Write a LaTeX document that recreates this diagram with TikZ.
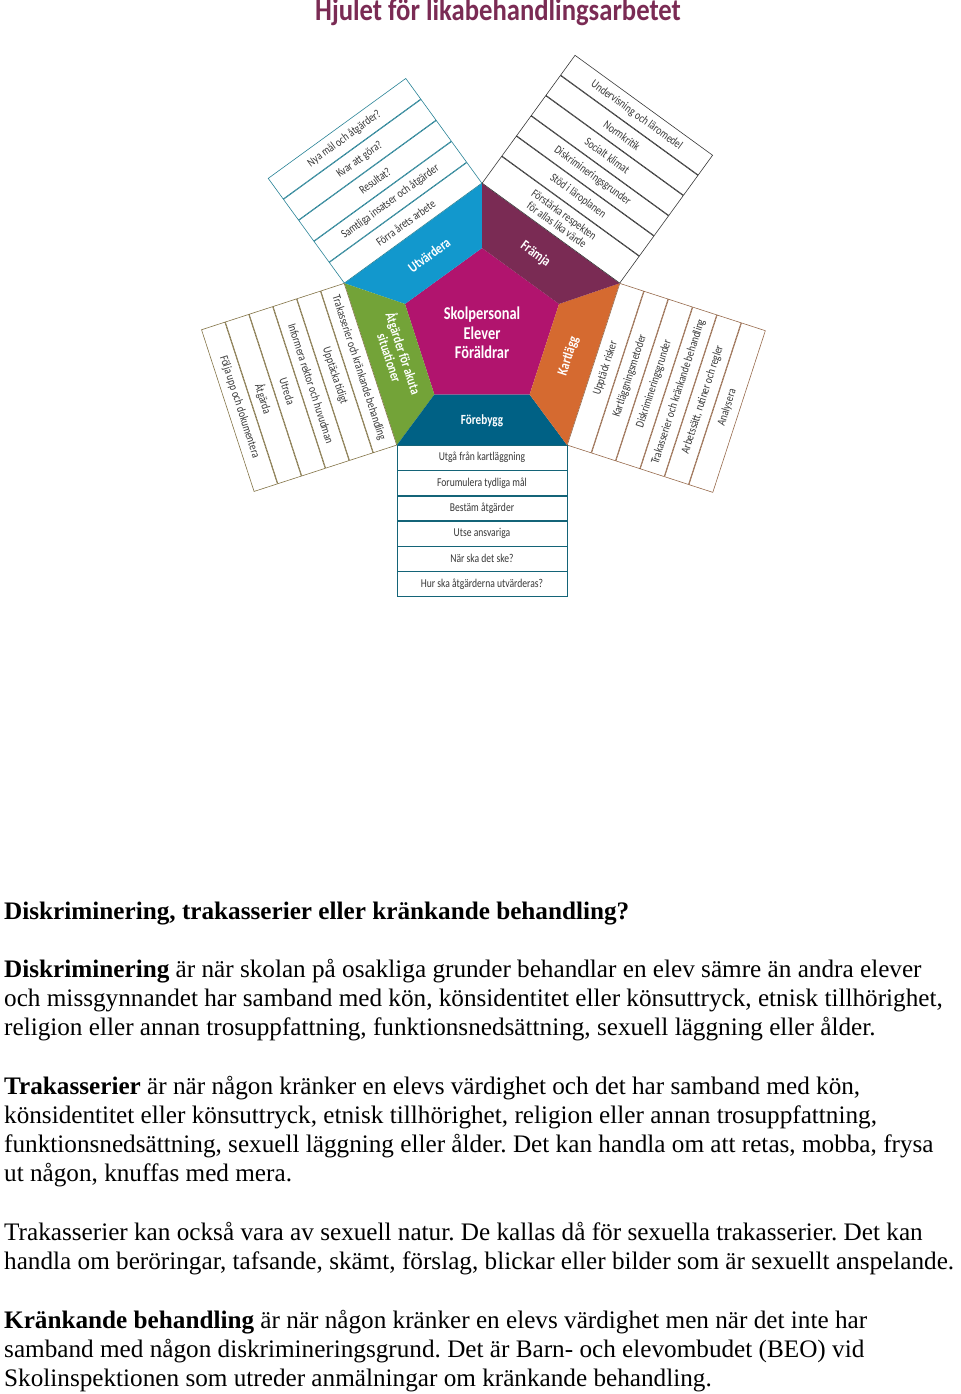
\documentclass[tikz,border=0pt]{standalone}
\usepackage{fontspec}
\setmainfont{Liberation Serif}
\newfontfamily\wheelfont[FakeStretch=0.8]{Carlito}
\newfontfamily\titlefont[FakeStretch=0.86]{Carlito}
\usetikzlibrary{calc,positioning}
\frenchspacing

\definecolor{hubColor}{RGB}{177,20,110}
\definecolor{evalColor}{RGB}{18,152,205}
\definecolor{promoColor}{RGB}{122,43,84}
\definecolor{surveyColor}{RGB}{213,106,48}
\definecolor{preventColor}{RGB}{0,97,133}
\definecolor{actColor}{RGB}{115,163,56}
\definecolor{evalLine}{RGB}{40,130,150}
\definecolor{promoLine}{RGB}{55,55,55}
\definecolor{surveyLine}{RGB}{150,105,75}
\definecolor{actLine}{RGB}{130,115,70}
\definecolor{preventLine}{RGB}{20,100,120}
\definecolor{rowText}{RGB}{55,55,55}

\begin{document}
\begin{tikzpicture}[x=1bp, y=1bp]
	\tikzstyle{row} = [draw, line width=0.6bp, rectangle, minimum width=170bp, inner sep=0pt, text=rowText, align=center, font=\wheelfont\fontsize{12bp}{12.5bp}\selectfont]
	\tikzstyle{segLabel} = [text=white, align=center, font=\wheelfont\bfseries\fontsize{14.5bp}{15bp}\selectfont]
	\tikzstyle{hubLabel} = [text=white, align=center, font=\wheelfont\bfseries\fontsize{18bp}{19.7bp}\selectfont]
	\tikzstyle{bodyLine} = [anchor=base west, inner sep=0pt, font=\fontsize{25.2bp}{29bp}\selectfont]
	\tikzstyle{evalRow} = [row, draw=evalLine, rotate=36, minimum height=25.4bp]
	\tikzstyle{promoRow} = [row, draw=promoLine, rotate=-36, minimum height=24.4bp]
	\tikzstyle{surveyRow} = [row, draw=surveyLine, rotate=72, minimum height=25bp]
	\tikzstyle{actRow} = [row, draw=actLine, rotate=-72, minimum height=24.5bp]
	\tikzstyle{preventRow} = [row, draw=preventLine, minimum height=24.7bp]

	\useasboundingbox (0,0) rectangle (960,-1394);

	% the wheel
	\coordinate (C) at (482,-328);
	\coordinate (Ci) at (482,-329);
	\foreach \i/\a in {0/90,1/162,2/234,3/306,4/18}{
		\coordinate (o\i) at ($(C)+(\a:144.6)$);
		\coordinate (n\i) at ($(Ci)+(\a:81)$);
	}
	\fill[hubColor] (n0) -- (n1) -- (n2) -- (n3) -- (n4) -- cycle;
	\fill[evalColor] (o0) -- (o1) -- (n1) -- (n0) -- cycle;
	\fill[actColor] (o1) -- (o2) -- (n2) -- (n1) -- cycle;
	\fill[preventColor] (o2) -- (o3) -- (n3) -- (n2) -- cycle;
	\fill[surveyColor] (o3) -- (o4) -- (n4) -- (n3) -- cycle;
	\fill[promoColor] (o4) -- (o0) -- (n0) -- (n4) -- cycle;

	\node[hubLabel] (hub) at (482,-333) {Skolpersonal\\Elever\\Föräldrar};
	\node[segLabel, rotate=36] (eval) at ($(C)+(126:90)$) {Utvärdera};
	\node[segLabel, rotate=-36] (promo) at ($(C)+(54:91)$) {Främja};
	\node[segLabel, rotate=72] (survey) at ($(C)+(-18:91)$) {Kartlägg};
	\node[segLabel, rotate=-72, font=\wheelfont\bfseries\fontsize{14bp}{14.5bp}\selectfont] (act) at ($(C)+(198:89)$) {Åtgärder för akuta\\situationer};
	\node[segLabel, font=\wheelfont\bfseries\fontsize{14bp}{14bp}\selectfont] (prevent) at ($(C)+(270:93)$) {Förebygg};

	% lists on the outer edges
	\node[evalRow, anchor=south] (eval1) at ($(C)+(126:116.98)$) {Förra årets arbete};
	\node[evalRow, above=0pt of eval1] (eval2) {Samtliga insatser och åtgärder};
	\node[evalRow, above=0pt of eval2] (eval3) {Resultat?};
	\node[evalRow, above=0pt of eval3] (eval4) {Kvar att göra?};
	\node[evalRow, above=0pt of eval4] (eval5) {Nya mål och åtgärder?};

	\node[promoRow, anchor=south, minimum height=33bp] (promo1) at ($(C)+(54:116.98)$) {Förstärka respekten\\för allas lika värde};
	\node[promoRow, above=0pt of promo1] (promo2) {Stöd i läroplanen};
	\node[promoRow, above=0pt of promo2] (promo3) {Diskrimineringsgrunder};
	\node[promoRow, above=0pt of promo3] (promo4) {Socialt klimat};
	\node[promoRow, above=0pt of promo4] (promo5) {Normkritik};
	\node[promoRow, above=0pt of promo5] (promo6) {Undervisning och läromedel};

	\node[surveyRow, anchor=north] (survey1) at ($(C)+(-18:116.98)$) {Upptäck risker};
	\node[surveyRow, below=0pt of survey1] (survey2) {Kartläggningsmetoder};
	\node[surveyRow, below=0pt of survey2] (survey3) {Diskrimineringsgrunder};
	\node[surveyRow, below=0pt of survey3] (survey4) {Trakasserier och kränkande behandling};
	\node[surveyRow, below=0pt of survey4] (survey5) {Arbetssätt, rutiner och regler};
	\node[surveyRow, below=0pt of survey5] (survey6) {Analysera};

	\node[actRow, anchor=north] (act1) at ($(C)+(198:116.98)$) {Trakasserier och kränkande behandling};
	\node[actRow, below=0pt of act1] (act2) {Upptäcka tidigt};
	\node[actRow, below=0pt of act2] (act3) {Informera rektor och huvudman};
	\node[actRow, below=0pt of act3] (act4) {Utreda};
	\node[actRow, below=0pt of act4] (act5) {Åtgärda};
	\node[actRow, below=0pt of act5] (act6) {Följa upp och dokumentera};

	\node[preventRow, anchor=north] (prevent1) at ($(C)+(270:116.98)$) {Utgå från kartläggning};
	\node[preventRow, below=0pt of prevent1] (prevent2) {Forumulera tydliga mål};
	\node[preventRow, below=0pt of prevent2] (prevent3) {Bestäm åtgärder};
	\node[preventRow, below=0pt of prevent3] (prevent4) {Utse ansvariga};
	\node[preventRow, below=0pt of prevent4] (prevent5) {När ska det ske?};
	\node[preventRow, below=0pt of prevent5] (prevent6) {Hur ska åtgärderna utvärderas?};

	% title and text
	\node[anchor=base, text=promoColor, font=\titlefont\bfseries\fontsize{31bp}{31bp}\selectfont] (title) at (498,-21) {Hjulet för likabehandlingsarbetet};

	\node[bodyLine] (head) at (4,-919) {\textbf{Diskriminering, trakasserier eller kränkande behandling?}};
	\node[bodyLine] (disc1) at (4,-977) {\textbf{Diskriminering} är när skolan på osakliga grunder behandlar en elev sämre än andra elever};
	\node[bodyLine] (disc2) at (4,-1006) {och missgynnandet har samband med kön, könsidentitet eller könsuttryck, etnisk tillhörighet,};
	\node[bodyLine] (disc3) at (4,-1035) {religion eller annan trosuppfattning, funktionsnedsättning, sexuell läggning eller ålder.};
	\node[bodyLine] (har1) at (4,-1094) {\textbf{Trakasserier} är när någon kränker en elevs värdighet och det har samband med kön,};
	\node[bodyLine] (har2) at (4,-1123) {könsidentitet eller könsuttryck, etnisk tillhörighet, religion eller annan trosuppfattning,};
	\node[bodyLine] (har3) at (4,-1152) {funktionsnedsättning, sexuell läggning eller ålder. Det kan handla om att retas, mobba, frysa};
	\node[bodyLine] (har4) at (4,-1181) {ut någon, knuffas med mera.};
	\node[bodyLine] (sex1) at (4,-1240) {Trakasserier kan också vara av sexuell natur. De kallas då för sexuella trakasserier. Det kan};
	\node[bodyLine] (sex2) at (4,-1269) {handla om beröringar, tafsande, skämt, förslag, blickar eller bilder som är sexuellt anspelande.};
	\node[bodyLine] (abuse1) at (4,-1328) {\textbf{Kränkande behandling} är när någon kränker en elevs värdighet men när det inte har};
	\node[bodyLine] (abuse2) at (4,-1357) {samband med någon diskrimineringsgrund. Det är Barn- och elevombudet (BEO) vid};
	\node[bodyLine] (abuse3) at (4,-1386) {Skolinspektionen som utreder anmälningar om kränkande behandling.};
\end{tikzpicture}
\end{document}
